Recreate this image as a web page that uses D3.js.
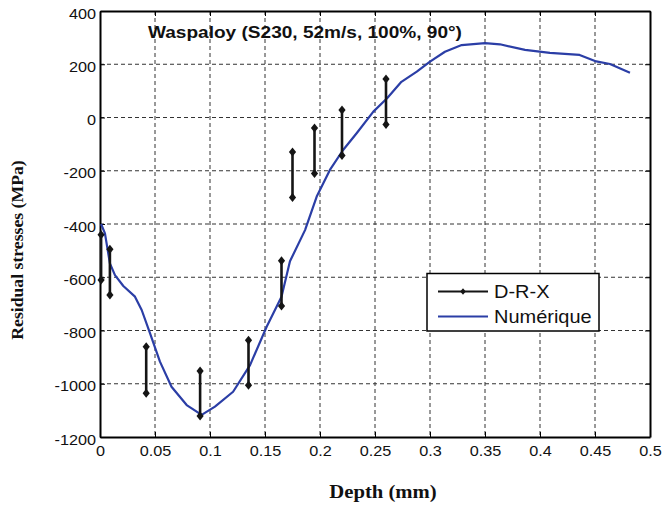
<!DOCTYPE html>
<html>
<head>
<meta charset="utf-8">
<script src="https://cdn.jsdelivr.net/npm/d3@7/dist/d3.min.js"></script>
<style>
  html, body { margin: 0; padding: 0; background: #fff; }
  svg { display: block; }
</style>
</head>
<body>
<svg id="chart" width="665" height="510"></svg>
<script>
// ---- data ----
const title = "Waspaloy (S230, 52m/s, 100%, 90°)";
const xLabel = "Depth (mm)";
const yLabel = "Residual stresses (MPa)";

const depthTicks = [0, 0.05, 0.1, 0.15, 0.2, 0.25, 0.3, 0.35, 0.4, 0.45, 0.5];
const depthTickLabels = ["0", "0.05", "0.1", "0.15", "0.2", "0.25", "0.3", "0.35", "0.4", "0.45", "0.5"];
const stressTicks = [400, 200, 0, -200, -400, -600, -800, -1000, -1200];
const stressTickLabels = ["400", "200", "0", "-200", "-400", "-600", "-800", "-1000", "-1200"];

// D-R-X measurements (vertical bars: upper and lower values)
const drxDepth  = [0.001, 0.009, 0.042, 0.091, 0.135, 0.165, 0.175, 0.195, 0.22, 0.26];
const drxUpper  = [-440, -495, -861, -952, -837, -538, -130, -39, 28, 145];
const drxLower  = [-610, -667, -1036, -1121, -1006, -708, -300, -210, -143, -26];

// Numérique (simulation) curve
const numDepth  = [0.001, 0.0045, 0.009, 0.0136, 0.0212, 0.0318, 0.0379, 0.0455, 0.0545, 0.065,
                   0.0788, 0.0924, 0.1045, 0.121, 0.1364, 0.1515, 0.165, 0.1727, 0.1864, 0.197,
                   0.209, 0.221, 0.2333, 0.2485, 0.261, 0.274, 0.288, 0.3, 0.3136, 0.3288,
                   0.35, 0.3636, 0.3864, 0.409, 0.436, 0.45, 0.4636, 0.4818];
const numStress = [-400, -435, -548, -592, -633, -673, -723, -811, -917, -1011,
                   -1080, -1117, -1086, -1030, -930, -786, -673, -540, -423, -297,
                   -197, -122, -59, 22, 72, 134, 172, 210, 247, 272,
                   279, 275, 254, 243, 235, 212, 201, 168];

const seriesNames = ["D-R-X", "Numérique"];

// ---- drawing ----
const svg = d3.select("#chart");
const x = d3.scaleLinear().domain([0, 0.5]).range([100, 650]);
const y = d3.scaleLinear().domain([-1200, 400]).range([437, 11]);
const blue = "#2b3ea6";
const SANS = "Liberation Sans, Arial, Helvetica, sans-serif";
const K = 1.16; // horizontal stretch of text seen in the reference

function stretch(sel, k) {
  sel.each(function () {
    const t = d3.select(this);
    const X = +t.attr("x") || 0;
    t.attr("transform", `translate(${X * (1 - k)},0) scale(${k},1)`);
  });
}

// grid
const grid = svg.append("g");
grid.selectAll("line.vg").data(depthTicks.slice(1, -1)).enter().append("line")
  .attr("x1", d => x(d)).attr("x2", d => x(d))
  .attr("y1", y.range()[1]).attr("y2", y.range()[0])
  .attr("stroke", "#333").attr("stroke-width", 1).attr("stroke-dasharray", "4,3");
grid.selectAll("line.hg").data(stressTicks.slice(1, -1)).enter().append("line")
  .attr("x1", x.range()[0]).attr("x2", x.range()[1])
  .attr("y1", d => y(d)).attr("y2", d => y(d))
  .attr("stroke", "#333").attr("stroke-width", 1).attr("stroke-dasharray", "4,3");

// axes
const fmtX = (d, i) => depthTickLabels[i];
const fmtY = (d, i) => stressTickLabels[i];

const xAxis = svg.append("g").attr("transform", `translate(0,${y(-1200)})`)
  .call(d3.axisBottom(x).tickValues(depthTicks).tickFormat(fmtX).tickSize(-5).tickSizeOuter(0).tickPadding(9));
const yAxis = svg.append("g").attr("transform", `translate(${x(0)},0)`)
  .call(d3.axisLeft(y).tickValues(stressTicks).tickFormat(fmtY).tickSize(-5).tickSizeOuter(0).tickPadding(4));
const xAxisTop = svg.append("g").attr("transform", `translate(0,${y(400)})`)
  .call(d3.axisTop(x).tickValues(depthTicks).tickFormat("").tickSize(-5).tickSizeOuter(0));
const yAxisRight = svg.append("g").attr("transform", `translate(${x(0.5)},0)`)
  .call(d3.axisRight(y).tickValues(stressTicks).tickFormat("").tickSize(-5).tickSizeOuter(0));

[xAxis, yAxis, xAxisTop, yAxisRight].forEach(g => {
  g.select(".domain").attr("stroke", "#000").attr("stroke-width", 2);
  g.selectAll(".tick line").attr("stroke", "#000").attr("stroke-width", 1);
  g.selectAll("text").attr("font-family", SANS).attr("font-size", 14).attr("fill", "#111");
});
yAxis.selectAll("text").attr("dy", "0.5em");
stretch(xAxis.selectAll("text"), K);
stretch(yAxis.selectAll("text"), K);

// Numérique curve
const line = d3.line().x(d => x(d[0])).y(d => y(d[1]));
svg.append("path")
  .datum(numDepth.map((d, i) => [d, numStress[i]]))
  .attr("d", line)
  .attr("fill", "none").attr("stroke", blue).attr("stroke-width", 2.2)
  .attr("stroke-linejoin", "round");

// D-R-X bars
const diamond = (cx, cy, w, h) => `M${cx},${cy - h}L${cx + w},${cy}L${cx},${cy + h}L${cx - w},${cy}Z`;
const bars = svg.append("g");
drxDepth.forEach((d, i) => {
  bars.append("line")
    .attr("x1", x(d)).attr("x2", x(d))
    .attr("y1", y(drxUpper[i])).attr("y2", y(drxLower[i]))
    .attr("stroke", "#151515").attr("stroke-width", 2.6);
  [drxUpper[i], drxLower[i]].forEach(v => {
    bars.append("path").attr("d", diamond(x(d), y(v), 3.6, 4.5)).attr("fill", "#151515");
  });
});

// title
const tt = svg.append("text").attr("x", 148).attr("y", 38)
  .attr("font-family", SANS).attr("font-weight", "bold").attr("font-size", 16.3)
  .attr("fill", "#111").text(title);
stretch(tt, 1.17);

// axis labels
svg.append("text")
  .attr("transform", "translate(383,498) scale(1.15,1)")
  .attr("text-anchor", "middle")
  .attr("font-family", "Liberation Serif").attr("font-weight", "bold").attr("font-size", 18)
  .attr("fill", "#111").text(xLabel);
svg.append("text")
  .attr("transform", "translate(23,250) rotate(-90)")
  .attr("text-anchor", "middle")
  .attr("font-family", "Liberation Serif").attr("font-weight", "bold").attr("font-size", 17.7)
  .attr("fill", "#111").text(yLabel);

// legend
const lg = svg.append("g");
lg.append("rect").attr("x", 427).attr("y", 273.5).attr("width", 172).attr("height", 57.5)
  .attr("fill", "#fff").attr("stroke", "#000").attr("stroke-width", 1.5);
lg.append("line").attr("x1", 438).attr("x2", 488).attr("y1", 291.5).attr("y2", 291.5)
  .attr("stroke", "#151515").attr("stroke-width", 2.2);
lg.append("path").attr("d", diamond(463, 291.5, 2.8, 3.2)).attr("fill", "#151515");
lg.append("line").attr("x1", 438).attr("x2", 488).attr("y1", 316.5).attr("y2", 316.5)
  .attr("stroke", blue).attr("stroke-width", 2.2);
const lt = lg.selectAll("text.lt").data(seriesNames).enter().append("text")
  .attr("x", 494).attr("y", (d, i) => 297.8 + i * 25.5)
  .attr("font-family", SANS).attr("font-size", 18).attr("fill", "#111")
  .text(d => d);
stretch(lt, 1.11);
</script>
</body>
</html>
